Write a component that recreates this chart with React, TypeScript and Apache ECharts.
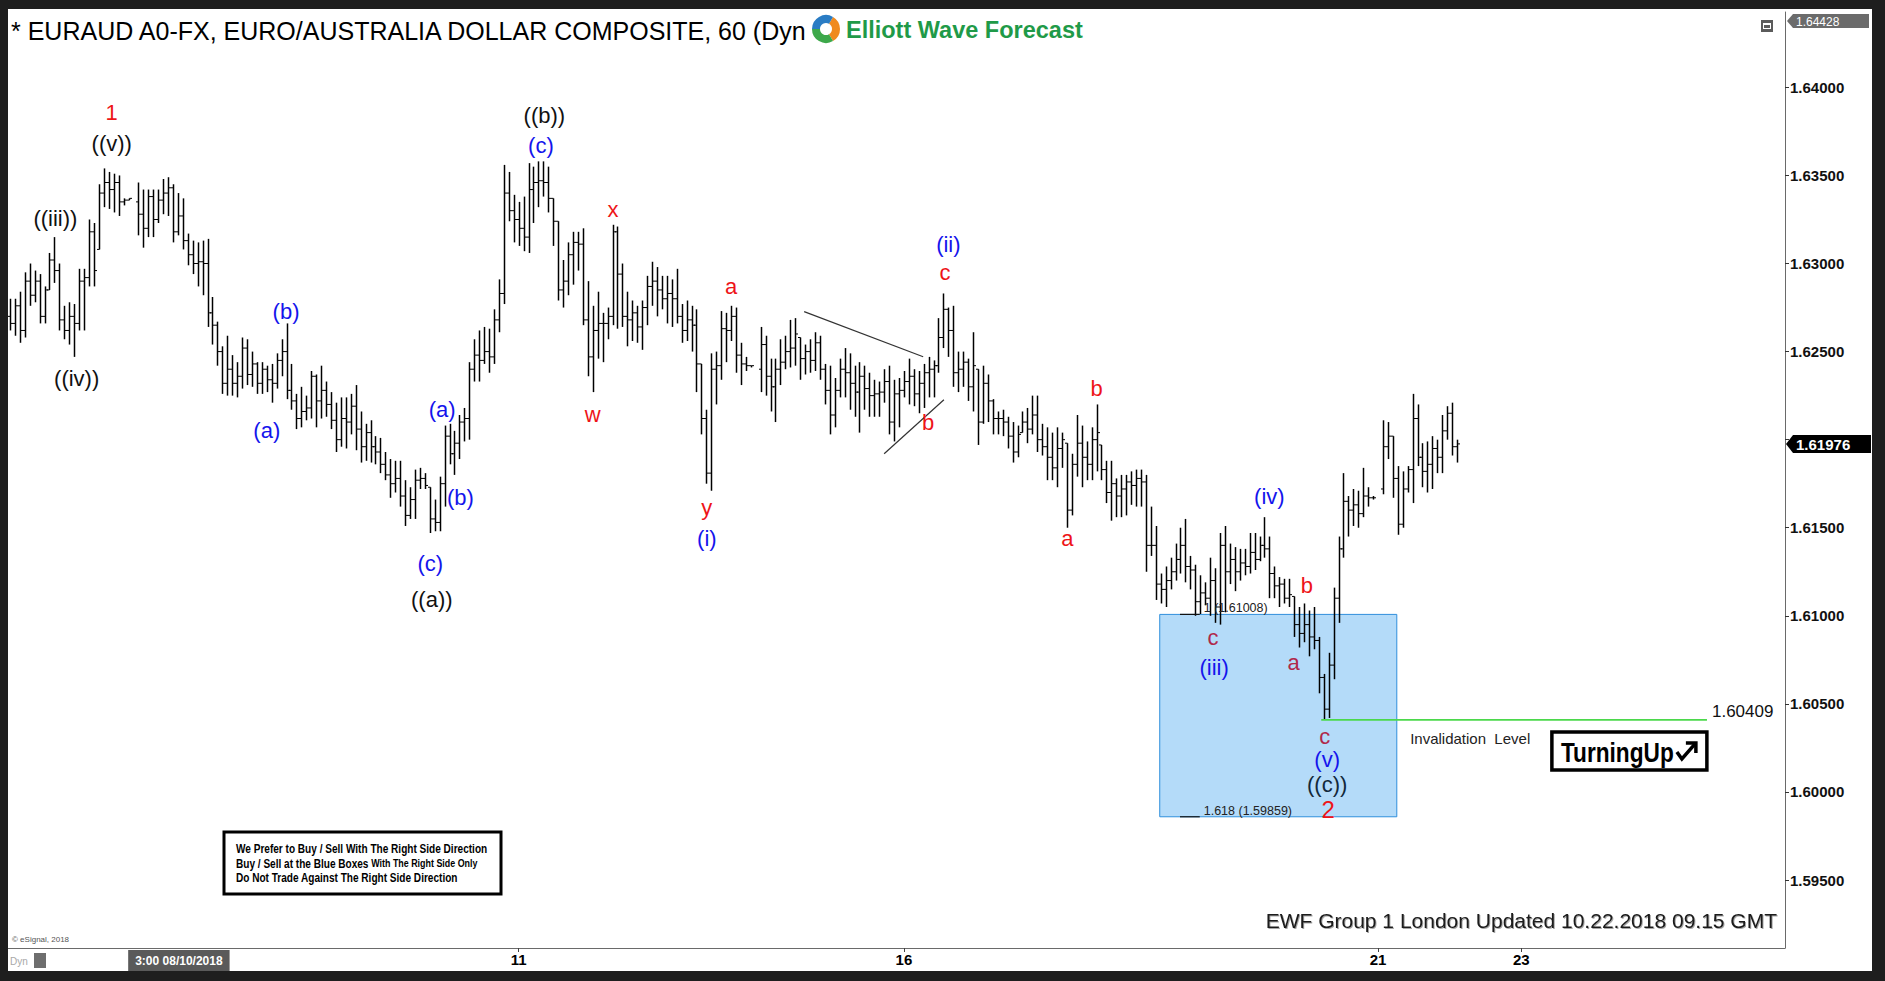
import React, { useEffect, useRef } from "react";
import * as echarts from "echarts";

const FONT = "'Liberation Sans', Arial, Helvetica, sans-serif";

// ---------------- DATA: hourly EURAUD bars, each [open, high, low, close] ----------------
const barsWave1Top = [
  [1.627, 1.628, 1.6262, 1.6266], [1.6266, 1.628, 1.6259, 1.6276], [1.6276, 1.6284, 1.6255, 1.6262],
  [1.6262, 1.6295, 1.6258, 1.629], [1.629, 1.63, 1.6276, 1.6282], [1.6282, 1.6296, 1.6278, 1.629],
  [1.629, 1.6294, 1.6266, 1.627], [1.627, 1.6287, 1.6266, 1.6285], [1.6285, 1.6306, 1.6285, 1.6302],
  [1.6302, 1.6315, 1.6289, 1.6296], [1.6296, 1.63, 1.6262, 1.6268], [1.6268, 1.6276, 1.6257, 1.6262],
  [1.6262, 1.6278, 1.6254, 1.627], [1.627, 1.6277, 1.6247, 1.6266], [1.6266, 1.6297, 1.6262, 1.629],
  [1.629, 1.6297, 1.6262, 1.6292], [1.6292, 1.6325, 1.6287, 1.6318], [1.6318, 1.6323, 1.6287, 1.6296],
  [1.6308, 1.6345, 1.6308, 1.634], [1.634, 1.6354, 1.6332, 1.6346], [1.6346, 1.6352, 1.6331, 1.6342],
  [1.6342, 1.6351, 1.6329, 1.6346], [1.6346, 1.635, 1.6327, 1.6335], [1.6335, 1.6337, 1.6333, 1.6336],
  [1.6336, 1.6337, 1.6336, 1.6337],
];
const barsWaveA1 = [
  [1.6335, 1.6346, 1.6316, 1.6328], [1.6328, 1.6342, 1.6309, 1.632], [1.632, 1.6342, 1.6315, 1.6338],
  [1.6338, 1.6342, 1.6315, 1.6325], [1.6325, 1.6342, 1.6323, 1.6336], [1.6336, 1.6348, 1.6328, 1.634],
  [1.634, 1.6349, 1.6327, 1.6343], [1.6343, 1.6345, 1.6312, 1.6318], [1.6318, 1.634, 1.6316, 1.6327],
  [1.6327, 1.6337, 1.6308, 1.6313], [1.6313, 1.6317, 1.6299, 1.6305], [1.6305, 1.6313, 1.6294, 1.63],
  [1.63, 1.6312, 1.6287, 1.6301], [1.6301, 1.6313, 1.6282, 1.63], [1.63, 1.6314, 1.6264, 1.6272],
  [1.6272, 1.6281, 1.6254, 1.6265], [1.6265, 1.6267, 1.6242, 1.625], [1.625, 1.6253, 1.6226, 1.6232],
  [1.6232, 1.6259, 1.6225, 1.624], [1.624, 1.6248, 1.6225, 1.6232], [1.6232, 1.6244, 1.6224, 1.6236],
  [1.6236, 1.6258, 1.6229, 1.6252], [1.6252, 1.6257, 1.6231, 1.6237], [1.6237, 1.625, 1.623, 1.6243],
  [1.6243, 1.6244, 1.6226, 1.6232], [1.6232, 1.6244, 1.6226, 1.624], [1.624, 1.6242, 1.6227, 1.6234],
  [1.6234, 1.6243, 1.6221, 1.6232], [1.6232, 1.6249, 1.6229, 1.6245], [1.6245, 1.6257, 1.6236, 1.625],
  [1.625, 1.6266, 1.6223, 1.6228], [1.6228, 1.6243, 1.6217, 1.6222], [1.6222, 1.6226, 1.6206, 1.6212],
  [1.6212, 1.623, 1.6207, 1.6216], [1.6216, 1.6225, 1.6211, 1.6218], [1.6218, 1.6239, 1.6212, 1.6236],
  [1.6236, 1.6237, 1.6207, 1.6222],
];
const barsWaveA2 = [
  [1.6222, 1.6242, 1.6212, 1.6228], [1.6228, 1.6233, 1.6213, 1.622], [1.622, 1.6227, 1.6206, 1.6211],
  [1.6211, 1.6221, 1.6193, 1.62], [1.62, 1.6224, 1.6196, 1.6212], [1.6212, 1.6224, 1.6195, 1.621],
  [1.621, 1.6226, 1.6203, 1.6219], [1.6219, 1.6231, 1.6194, 1.6206], [1.6206, 1.6216, 1.6187, 1.6196],
  [1.6196, 1.6209, 1.6188, 1.6204], [1.6204, 1.6211, 1.6187, 1.6196], [1.6196, 1.6202, 1.6186, 1.6193],
  [1.6193, 1.6201, 1.6181, 1.6186], [1.6186, 1.6193, 1.6177, 1.618], [1.618, 1.6189, 1.6167, 1.6175],
  [1.6175, 1.6188, 1.617, 1.6178], [1.6178, 1.6188, 1.6162, 1.6168], [1.6168, 1.6177, 1.6151, 1.6157],
  [1.6157, 1.6173, 1.6155, 1.6166], [1.6166, 1.6183, 1.6155, 1.6177], [1.6177, 1.6184, 1.6172, 1.6178],
  [1.6178, 1.6181, 1.6172, 1.6174], [1.6173, 1.6173, 1.6147, 1.6155], [1.6155, 1.6166, 1.6148, 1.6153],
  [1.6153, 1.6179, 1.6148, 1.6175], [1.6175, 1.6208, 1.6162, 1.6202], [1.6202, 1.6209, 1.6186, 1.6192],
  [1.6192, 1.6205, 1.618, 1.6198], [1.6198, 1.6214, 1.6189, 1.621], [1.621, 1.6218, 1.6199, 1.6212],
  [1.6212, 1.6244, 1.62, 1.624], [1.624, 1.6257, 1.6233, 1.6248], [1.6248, 1.6262, 1.6233, 1.6245],
  [1.6245, 1.6264, 1.6243, 1.625], [1.625, 1.6263, 1.6238, 1.6247], [1.6247, 1.6274, 1.6243, 1.6268],
  [1.6268, 1.6291, 1.6261, 1.6283],
];
const barsWaveB = [
  [1.6283, 1.6356, 1.6277, 1.634], [1.634, 1.6352, 1.6324, 1.633], [1.633, 1.6339, 1.6312, 1.6325],
  [1.6325, 1.6335, 1.631, 1.632], [1.632, 1.6338, 1.6307, 1.6315], [1.6315, 1.6357, 1.6306, 1.6342],
  [1.6342, 1.6355, 1.6323, 1.6346], [1.6346, 1.6358, 1.6332, 1.6347], [1.6347, 1.6358, 1.6338, 1.6346],
  [1.6346, 1.6355, 1.6329, 1.6337], [1.6337, 1.6337, 1.631, 1.6324], [1.6324, 1.6324, 1.6279, 1.6285],
  [1.6285, 1.6302, 1.6275, 1.629], [1.629, 1.6312, 1.6282, 1.6305], [1.6305, 1.6318, 1.6288, 1.6312],
  [1.6312, 1.6318, 1.6296, 1.6311], [1.6311, 1.632, 1.6265, 1.6268], [1.6268, 1.629, 1.6236, 1.6247],
  [1.6247, 1.6276, 1.6227, 1.6262], [1.6262, 1.6284, 1.6246, 1.6266], [1.6266, 1.6272, 1.6244, 1.6266],
  [1.6266, 1.6275, 1.6257, 1.627], [1.627, 1.6322, 1.6265, 1.6318], [1.6318, 1.6321, 1.6263, 1.6294],
  [1.6294, 1.63, 1.6264, 1.627], [1.627, 1.6284, 1.6253, 1.6268], [1.6268, 1.6279, 1.6256, 1.6272],
  [1.6272, 1.6276, 1.6255, 1.6264], [1.6264, 1.6279, 1.6251, 1.6275], [1.6275, 1.6293, 1.6265, 1.6287],
  [1.6287, 1.6301, 1.6276, 1.629], [1.629, 1.6298, 1.627, 1.6285], [1.6285, 1.6293, 1.6274, 1.628],
  [1.628, 1.6293, 1.6266, 1.6283], [1.6283, 1.6291, 1.6264, 1.628], [1.628, 1.6297, 1.6266, 1.627],
  [1.627, 1.6277, 1.6255, 1.6262], [1.6262, 1.6279, 1.6256, 1.6268], [1.6268, 1.6276, 1.625, 1.6265],
  [1.6265, 1.6274, 1.6227, 1.6243], [1.6243, 1.6243, 1.6203, 1.6212], [1.6212, 1.6217, 1.6175, 1.6181],
  [1.6181, 1.6249, 1.6171, 1.624], [1.624, 1.625, 1.622, 1.6242], [1.6242, 1.6273, 1.6234, 1.6263],
  [1.6263, 1.6272, 1.6244, 1.6262], [1.6262, 1.6276, 1.6256, 1.627], [1.627, 1.6275, 1.6238, 1.6248],
  [1.6248, 1.6255, 1.6231, 1.6243], [1.6243, 1.6247, 1.6239, 1.6242], [1.6242, 1.6242, 1.6241, 1.6242],
];
const barsWaveII = [
  [1.624, 1.6264, 1.6227, 1.6254], [1.6254, 1.6259, 1.6225, 1.6236], [1.6236, 1.6246, 1.6216, 1.623],
  [1.623, 1.6246, 1.621, 1.624], [1.624, 1.6257, 1.6231, 1.6244], [1.6244, 1.6259, 1.624, 1.625],
  [1.625, 1.6268, 1.6241, 1.6252], [1.6252, 1.6269, 1.6242, 1.626], [1.6258, 1.6258, 1.6234, 1.6246],
  [1.6246, 1.6254, 1.6237, 1.625], [1.625, 1.6257, 1.6238, 1.6245], [1.6245, 1.6261, 1.6239, 1.6255],
  [1.6255, 1.6259, 1.6234, 1.624], [1.624, 1.6243, 1.622, 1.6228], [1.6228, 1.6242, 1.6203, 1.6214],
  [1.6214, 1.6235, 1.6207, 1.6228], [1.6228, 1.6246, 1.6224, 1.624], [1.624, 1.6252, 1.6224, 1.6238],
  [1.6238, 1.6249, 1.6217, 1.6232], [1.6232, 1.6242, 1.6213, 1.6227], [1.6227, 1.6244, 1.6204, 1.6236],
  [1.6236, 1.6242, 1.6217, 1.6229], [1.6229, 1.6238, 1.6213, 1.6225], [1.6225, 1.6234, 1.6213, 1.6226],
  [1.6226, 1.6233, 1.6213, 1.6227], [1.6227, 1.624, 1.6221, 1.6233], [1.6233, 1.6242, 1.6203, 1.621],
  [1.621, 1.6234, 1.6199, 1.6226], [1.6226, 1.6235, 1.6207, 1.6228], [1.6228, 1.6239, 1.6224, 1.6233],
  [1.6233, 1.6246, 1.622, 1.6236], [1.6236, 1.624, 1.6219, 1.6226], [1.6226, 1.6239, 1.6215, 1.6232],
  [1.6232, 1.6243, 1.6218, 1.6238], [1.6238, 1.6247, 1.6224, 1.624], [1.624, 1.6245, 1.6224, 1.6242],
  [1.6242, 1.6269, 1.6238, 1.6258], [1.6258, 1.6283, 1.6252, 1.6274], [1.6274, 1.6275, 1.6247, 1.6262],
  [1.6262, 1.6276, 1.623, 1.6238], [1.6238, 1.625, 1.6227, 1.624], [1.624, 1.625, 1.623, 1.6244],
  [1.6244, 1.6246, 1.6222, 1.623], [1.623, 1.6261, 1.6216, 1.6242], [1.624, 1.624, 1.6197, 1.621],
  [1.621, 1.6242, 1.6209, 1.6232], [1.6232, 1.6237, 1.621, 1.6222], [1.6222, 1.6223, 1.6203, 1.6212],
];
const barsWaveIII = [
  [1.6212, 1.6216, 1.6203, 1.6212], [1.6212, 1.6217, 1.6202, 1.621], [1.621, 1.6213, 1.6195, 1.6202],
  [1.6202, 1.621, 1.6187, 1.6193], [1.6193, 1.6208, 1.619, 1.6203], [1.6204, 1.6216, 1.6204, 1.621],
  [1.621, 1.6218, 1.6198, 1.6206], [1.6206, 1.6225, 1.6203, 1.6214], [1.6214, 1.6225, 1.6193, 1.62],
  [1.62, 1.6209, 1.6191, 1.6196], [1.6196, 1.6207, 1.6177, 1.619], [1.619, 1.6204, 1.6177, 1.6184],
  [1.6184, 1.6207, 1.6173, 1.6195], [1.6195, 1.6204, 1.6184, 1.62], [1.6198, 1.6198, 1.615, 1.616],
  [1.616, 1.6192, 1.6157, 1.6186], [1.6186, 1.6214, 1.6179, 1.6198], [1.6198, 1.6208, 1.6173, 1.619],
  [1.619, 1.6199, 1.6177, 1.6186], [1.6186, 1.6207, 1.6177, 1.62], [1.62, 1.622, 1.6182, 1.6204],
  [1.6197, 1.6197, 1.6177, 1.6183], [1.6183, 1.6188, 1.6164, 1.617], [1.617, 1.6188, 1.6154, 1.6175],
  [1.6175, 1.6178, 1.6156, 1.6168], [1.6168, 1.618, 1.6156, 1.6172], [1.6172, 1.618, 1.6157, 1.6176],
  [1.6176, 1.6182, 1.6163, 1.6174], [1.6174, 1.6183, 1.6162, 1.6178], [1.6178, 1.6183, 1.6162, 1.6176],
  [1.6176, 1.618, 1.6125, 1.614], [1.614, 1.6162, 1.6134, 1.614], [1.614, 1.6151, 1.6109, 1.6118],
  [1.6118, 1.6124, 1.6107, 1.6115], [1.6115, 1.6128, 1.6105, 1.612], [1.612, 1.6133, 1.6115, 1.6125],
  [1.6125, 1.6141, 1.612, 1.6132], [1.6132, 1.615, 1.6124, 1.614], [1.614, 1.6155, 1.6119, 1.6128],
  [1.6128, 1.6134, 1.6115, 1.6126], [1.6126, 1.6129, 1.61, 1.6108],
];
const barsWaveV = [
  [1.6108, 1.6123, 1.6101, 1.6113], [1.6113, 1.6119, 1.6106, 1.611], [1.611, 1.6133, 1.61, 1.612],
  [1.612, 1.6127, 1.6096, 1.6105], [1.6105, 1.6147, 1.6095, 1.614], [1.614, 1.6151, 1.6102, 1.6125],
  [1.6125, 1.6141, 1.6118, 1.6132], [1.6132, 1.6139, 1.6114, 1.6125], [1.6125, 1.6138, 1.612, 1.613],
  [1.613, 1.6138, 1.6123, 1.6128], [1.6128, 1.6147, 1.6124, 1.6136], [1.6136, 1.6147, 1.6126, 1.6132],
  [1.6132, 1.6145, 1.6131, 1.614], [1.614, 1.6156, 1.6133, 1.6138], [1.6138, 1.6145, 1.611, 1.6124],
  [1.6124, 1.6128, 1.611, 1.6117], [1.6117, 1.6122, 1.6105, 1.6118], [1.6118, 1.6121, 1.6107, 1.611],
  [1.611, 1.6121, 1.6105, 1.6112], [1.6111, 1.6111, 1.6088, 1.6095], [1.6095, 1.6105, 1.6082, 1.609],
  [1.609, 1.6107, 1.6085, 1.6095], [1.6095, 1.6103, 1.6077, 1.6088], [1.6088, 1.6105, 1.6081, 1.6086],
  [1.6086, 1.6088, 1.6056, 1.6065], [1.6065, 1.6067, 1.60409, 1.6047], [1.6047, 1.6079, 1.6042, 1.6072],
  [1.6072, 1.6116, 1.6064, 1.611], [1.611, 1.6145, 1.6096, 1.6138], [1.6138, 1.6181, 1.6133, 1.6165],
  [1.6165, 1.6168, 1.6145, 1.616], [1.616, 1.6172, 1.6151, 1.6163], [1.6163, 1.6171, 1.615, 1.6158],
  [1.6158, 1.6184, 1.6156, 1.6168], [1.6168, 1.6173, 1.6162, 1.6167], [1.6167, 1.6168, 1.6166, 1.6167],
];
const barsWave3Start = [
  [1.6172, 1.6211, 1.6169, 1.6196], [1.6196, 1.621, 1.6189, 1.6202], [1.6202, 1.6202, 1.6167, 1.6178],
  [1.6178, 1.6185, 1.6146, 1.6152], [1.6152, 1.6182, 1.615, 1.6172], [1.6172, 1.6185, 1.617, 1.6183],
  [1.6183, 1.6226, 1.6164, 1.6212], [1.6212, 1.622, 1.6185, 1.619], [1.619, 1.6198, 1.6173, 1.6182],
  [1.6182, 1.6199, 1.617, 1.6186], [1.6186, 1.6202, 1.6172, 1.6195], [1.6195, 1.62, 1.6181, 1.619],
  [1.619, 1.6214, 1.6181, 1.6205], [1.6205, 1.6219, 1.62, 1.6215], [1.6215, 1.6221, 1.6191, 1.6196],
  [1.6196, 1.62, 1.6187, 1.61976],
];
// null = empty session slot (weekend gap)
const sessions = [barsWave1Top, null, barsWaveA1, barsWaveA2, barsWaveB, null, barsWaveII, barsWaveIII, barsWaveV, null, barsWave3Start];

const currentPrice = 1.61976;

// axis extents and tick labels
const X_MIN = -0.4;
const X_MAX = 359.4;
const Y_MIN = 1.59114;
const Y_MAX = 1.64428;
const Y_STEP = 0.005;
const xTickLabels: [number, string][] = [[34.2, "3:00 08/10/2018"], [103, "11"], [181, "16"], [277, "21"], [306, "23"]];
const dayTicks = [103, 181, 277, 306];

// Elliott wave labels: bar position, price position
const waveLabels = [
  { text: "1", bar: 20.6, price: 1.63857, tone: "red" },
  { text: "((v))", bar: 20.6, price: 1.63679, tone: "black" },
  { text: "((iii))", bar: 9.2, price: 1.63256, tone: "black" },
  { text: "((iv))", bar: 13.5, price: 1.62348, tone: "black" },
  { text: "(b)", bar: 55.9, price: 1.6273, tone: "blue" },
  { text: "(a)", bar: 52.0, price: 1.62054, tone: "blue" },
  { text: "((b))", bar: 108.2, price: 1.63843, tone: "black" },
  { text: "(c)", bar: 107.5, price: 1.63672, tone: "blue" },
  { text: "(a)", bar: 87.5, price: 1.6217, tone: "blue" },
  { text: "(b)", bar: 91.2, price: 1.61672, tone: "blue" },
  { text: "(c)", bar: 85.1, price: 1.61296, tone: "blue" },
  { text: "((a))", bar: 85.4, price: 1.61091, tone: "black" },
  { text: "w", bar: 118.0, price: 1.62143, tone: "red" },
  { text: "x", bar: 122.1, price: 1.63304, tone: "red" },
  { text: "y", bar: 141.1, price: 1.61617, tone: "red" },
  { text: "(i)", bar: 141.1, price: 1.61439, tone: "blue" },
  { text: "a", bar: 146.0, price: 1.62867, tone: "red" },
  { text: "b", bar: 185.9, price: 1.62095, tone: "red" },
  { text: "(ii)", bar: 190.0, price: 1.63106, tone: "blue" },
  { text: "c", bar: 189.3, price: 1.62949, tone: "red" },
  { text: "b", bar: 220.0, price: 1.62293, tone: "red" },
  { text: "a", bar: 214.1, price: 1.61439, tone: "red" },
  { text: "(iv)", bar: 255.0, price: 1.61679, tone: "blue" },
  { text: "c", bar: 243.6, price: 1.60879, tone: "boxRed" },
  { text: "(iii)", bar: 243.8, price: 1.60709, tone: "blue" },
  { text: "b", bar: 262.6, price: 1.61173, tone: "red" },
  { text: "a", bar: 259.9, price: 1.60736, tone: "boxRed" },
  { text: "c", bar: 266.2, price: 1.60312, tone: "boxRed" },
  { text: "(v)", bar: 266.7, price: 1.60183, tone: "blue" },
  { text: "((c))", bar: 266.7, price: 1.6004, tone: "boxBlack" },
  { text: "2", bar: 266.9, price: 1.59903, tone: "red" },
];

// triangle (ii) trend lines [bar1, price1, bar2, price2]
const trendLines = [
  [160.8, 1.62727, 184.9, 1.62471],
  [177.0, 1.6192, 189.1, 1.62227],
];
// blue box between 100% and 161.8% extensions
const fibBox = { from: 232.8, to: 280.8, top: 1.61008, bottom: 1.59859, tickFrom: 236.9, tickTo: 240.9 };
const fibLevels = [
  { price: 1.61008, text: "1 (1.61008)" },
  { price: 1.59859, text: "1.618 (1.59859)" },
];
const invalidation = { price: 1.60409, from: 265.5, to: 343.6, noteAt: 283.5, badgeAt: 312.2 };

// ---------------- option ----------------
const TONES: Record<string, string> = {
  red: "#ee1418",
  blue: "#1414ec",
  black: "#111111",
  boxRed: "#b0284a",
  boxBlack: "#12283a",
};

function buildOption() {
  const ohlc: (number[] | null)[] = [];
  sessions.forEach((s) => {
    if (s === null) ohlc.push(null);
    else s.forEach((b) => ohlc.push(b));
  });
  const barData = ohlc
    .map((b, i) => (b ? [i, b[0], b[1], b[2], b[3]] : null))
    .filter((d) => d !== null);

  const isStep = (v: number) => Math.abs(v / Y_STEP - Math.round(v / Y_STEP)) < 1e-6;
  // the axis label hidden behind the current-price tag
  const underTag = (v: number) => Math.abs(v - currentPrice) < Y_STEP * 0.2;

  return {
    animation: false,
    backgroundColor: "#ffffff",
    grid: { left: 8, top: 12, width: 1777, height: 936, show: false },
    tooltip: { show: false },
    xAxis: {
      type: "value",
      min: X_MIN,
      max: X_MAX,
      axisLine: { show: true, onZero: false, lineStyle: { color: "#6a6a6a", width: 1 } },
      splitLine: { show: false },
      axisTick: { show: true, customValues: dayTicks, length: 4, lineStyle: { color: "#444" } },
      axisLabel: {
        customValues: xTickLabels.map((t) => t[0]),
        margin: 2,
        fontFamily: FONT,
        fontSize: 15,
        fontWeight: "bold",
        color: "#000",
        formatter: (v: number) => {
          const hit = xTickLabels.find((t) => Math.abs(t[0] - v) < 1e-6);
          if (!hit) return "";
          return hit[1].indexOf("/") >= 0 ? `{d|${hit[1]}}` : `{n|${hit[1]}}`;
        },
        rich: {
          d: { backgroundColor: "#5a5a5a", color: "#ffffff", fontSize: 12, fontFamily: FONT, padding: [5, 7, 4, 7] },
          n: { color: "#000", fontSize: 15, fontWeight: "bold", fontFamily: FONT, padding: [2, 0, 0, 0] },
        },
      },
    },
    yAxis: {
      type: "value",
      position: "right",
      min: Y_MIN,
      max: Y_MAX,
      splitNumber: 10,
      axisLine: { show: true, onZero: false, lineStyle: { color: "#6a6a6a", width: 1 } },
      axisTick: { show: true, length: 4, lineStyle: { color: "#333" } },
      splitLine: { show: false },
      axisLabel: {
        showMinLabel: false,
        showMaxLabel: false,
        margin: 5,
        color: "#111",
        fontWeight: "bold",
        fontSize: 15,
        fontFamily: FONT,
        formatter: (v: number) => (isStep(v) && !underTag(v) ? v.toFixed(5) : ""),
      },
    },
    series: [
      {
        type: "custom",
        name: "box",
        z: 1,
        silent: true,
        data: [[fibBox.from, fibBox.top, fibBox.to, fibBox.bottom]],
        encode: { x: [0, 2], y: [1, 3] },
        renderItem: (_p: any, api: any) => {
          const a = api.coord([api.value(0), api.value(1)]);
          const b = api.coord([api.value(2), api.value(3)]);
          return {
            type: "rect",
            shape: { x: a[0], y: a[1], width: b[0] - a[0], height: b[1] - a[1] },
            style: { fill: "#b4dbf9", stroke: "#2f8fdc", lineWidth: 1 },
          };
        },
      },
      {
        type: "custom",
        name: "EURAUD",
        z: 3,
        silent: true,
        data: barData,
        encode: { x: 0, y: [1, 2, 3, 4] },
        renderItem: (_p: any, api: any) => {
          const x = api.value(0);
          const pO = api.coord([x, api.value(1)]);
          const pH = api.coord([x, api.value(2)]);
          const pL = api.coord([x, api.value(3)]);
          const pC = api.coord([x, api.value(4)]);
          const cx = Math.round(pH[0]) + 0.5;
          const y2 = Math.max(pL[1], pH[1] + 1);
          return {
            type: "group",
            children: [
              { type: "line", shape: { x1: cx, y1: pH[1], x2: cx, y2 }, style: { stroke: "#000", lineWidth: 1.5 } },
              { type: "line", shape: { x1: cx - 2.5, y1: pO[1], x2: cx, y2: pO[1] }, style: { stroke: "#000", lineWidth: 1 } },
              { type: "line", shape: { x1: cx, y1: pC[1], x2: cx + 2.5, y2: pC[1] }, style: { stroke: "#000", lineWidth: 1 } },
            ],
          };
        },
      },
      {
        type: "custom",
        name: "trend",
        z: 4,
        silent: true,
        data: trendLines,
        encode: { x: [0, 2], y: [1, 3] },
        renderItem: (_p: any, api: any) => {
          const a = api.coord([api.value(0), api.value(1)]);
          const b = api.coord([api.value(2), api.value(3)]);
          return { type: "line", shape: { x1: a[0], y1: a[1], x2: b[0], y2: b[1] }, style: { stroke: "#333", lineWidth: 1.2 } };
        },
      },
      {
        type: "custom",
        name: "fib",
        z: 4,
        silent: true,
        clip: false,
        data: fibLevels.map((f) => [fibBox.tickFrom, f.price, fibBox.tickTo]),
        encode: { x: [0, 2], y: 1 },
        renderItem: (p: any, api: any) => {
          const a = api.coord([api.value(0), api.value(1)]);
          const b = api.coord([api.value(2), api.value(1)]);
          return {
            type: "group",
            children: [
              { type: "line", shape: { x1: a[0], y1: a[1], x2: b[0], y2: b[1] }, style: { stroke: "#111", lineWidth: 1.2 } },
              {
                type: "text",
                x: b[0] + 4,
                y: b[1] - 6,
                style: { text: fibLevels[p.dataIndex].text, fill: "#222", font: `12.5px ${FONT}`, align: "left", verticalAlign: "middle" },
              },
            ],
          };
        },
      },
      {
        type: "custom",
        name: "invalidation",
        z: 4,
        silent: true,
        clip: false,
        data: [[invalidation.from, invalidation.price, invalidation.to, invalidation.noteAt, invalidation.badgeAt]],
        encode: { x: [0, 2], y: 1 },
        renderItem: (_p: any, api: any) => {
          const a = api.coord([api.value(0), api.value(1)]);
          const b = api.coord([api.value(2), api.value(1)]);
          const n = api.coord([api.value(3), api.value(1)]);
          const t = api.coord([api.value(4), api.value(1)]);
          const bx = t[0];
          const by = t[1] + 12;
          return {
            type: "group",
            children: [
              { type: "line", shape: { x1: a[0], y1: a[1], x2: b[0], y2: b[1] }, style: { stroke: "#4bd84b", lineWidth: 1.6 } },
              {
                type: "text",
                x: b[0] + 5,
                y: b[1] - 8,
                style: { text: invalidation.price.toFixed(5), fill: "#111", font: `17px ${FONT}`, align: "left", verticalAlign: "middle" },
              },
              {
                type: "text",
                x: n[0],
                y: n[1] + 19,
                style: { text: "Invalidation  Level", fill: "#222", font: `15px ${FONT}`, align: "left", verticalAlign: "middle" },
              },
              { type: "rect", shape: { x: bx, y: by, width: 155, height: 38 }, style: { fill: "#fff", stroke: "#000", lineWidth: 3.5 } },
              {
                type: "text",
                x: bx + 9,
                y: by + 20,
                scaleX: 0.84,
                style: { text: "TurningUp", fill: "#000", font: `bold 27px ${FONT}`, align: "left", verticalAlign: "middle" },
              },
              {
                type: "polyline",
                shape: { points: [[bx + 125, by + 20], [bx + 130, by + 27], [bx + 144, by + 11]] },
                style: { stroke: "#000", lineWidth: 3.5, fill: null },
              },
              {
                type: "polyline",
                shape: { points: [[bx + 134, by + 11], [bx + 144, by + 11], [bx + 144, by + 21]] },
                style: { stroke: "#000", lineWidth: 3.5, fill: null },
              },
            ],
          };
        },
      },
      {
        type: "custom",
        name: "waves",
        z: 5,
        silent: true,
        clip: false,
        data: waveLabels.map((w) => [w.bar, w.price]),
        encode: { x: 0, y: 1 },
        renderItem: (p: any, api: any) => {
          const w = waveLabels[p.dataIndex];
          const pt = api.coord([api.value(0), api.value(1)]);
          return {
            type: "text",
            x: pt[0],
            y: pt[1],
            style: {
              text: w.text,
              fill: TONES[w.tone],
              font: `${w.text === "2" ? 24 : 22}px ${FONT}`,
              align: "center",
              verticalAlign: "middle",
            },
          };
        },
      },
      {
        type: "custom",
        name: "priceTags",
        z: 6,
        silent: true,
        clip: false,
        data: [[X_MAX, currentPrice], [X_MAX, Y_MAX]],
        encode: { x: 0, y: 1 },
        renderItem: (p: any, api: any) => {
          const pt = api.coord([api.value(0), api.value(1)]);
          const x0 = pt[0];
          if (p.dataIndex === 0) {
            const y = pt[1];
            return {
              type: "group",
              children: [
                {
                  type: "polygon",
                  shape: { points: [[x0 + 1, y], [x0 + 8, y - 9], [x0 + 86, y - 9], [x0 + 86, y + 9], [x0 + 8, y + 9]] },
                  style: { fill: "#000" },
                },
                {
                  type: "text",
                  x: x0 + 11,
                  y: y + 1,
                  style: { text: currentPrice.toFixed(5), fill: "#fff", font: `bold 15px ${FONT}`, verticalAlign: "middle" },
                },
              ],
            };
          }
          const yc = pt[1] + 9;
          return {
            type: "group",
            children: [
              {
                type: "polygon",
                shape: { points: [[x0 + 2, yc], [x0 + 8, yc - 7], [x0 + 84, yc - 7], [x0 + 84, yc + 7], [x0 + 8, yc + 7]] },
                style: { fill: "#6b6b6b" },
              },
              {
                type: "text",
                x: x0 + 11,
                y: yc + 1,
                style: { text: Y_MAX.toFixed(5), fill: "#fff", font: `12px ${FONT}`, verticalAlign: "middle" },
              },
            ],
          };
        },
      },
    ],
    graphic: [
      {
        type: "text",
        x: 11,
        y: 31,
        z: 50,
        style: { text: "* EURAUD A0-FX, EURO/AUSTRALIA DOLLAR COMPOSITE, 60 (Dyn", font: `25px ${FONT}`, fill: "#000", verticalAlign: "middle" },
      },
      {
        type: "group",
        x: 806,
        y: 12,
        z: 60,
        children: [
          { type: "rect", shape: { x: 0, y: 0, width: 298, height: 35 }, style: { fill: "#ffffff" } },
          { type: "sector", shape: { cx: 20, cy: 17, r: 14, r0: 6, startAngle: -Math.PI / 3, endAngle: Math.PI / 3 }, style: { fill: "#f08a1e" } },
          { type: "sector", shape: { cx: 20, cy: 17, r: 14, r0: 6, startAngle: Math.PI / 3, endAngle: Math.PI }, style: { fill: "#3da84a" } },
          { type: "sector", shape: { cx: 20, cy: 17, r: 14, r0: 6, startAngle: Math.PI, endAngle: (5 * Math.PI) / 3 }, style: { fill: "#2a7cc4" } },
          { type: "text", x: 40, y: 18, style: { text: "Elliott Wave Forecast", font: `bold 23.5px ${FONT}`, fill: "#1f9a48", verticalAlign: "middle" } },
        ],
      },
      {
        type: "group",
        x: 1761,
        y: 20,
        z: 60,
        children: [
          { type: "rect", shape: { x: 0, y: 0, width: 12, height: 12 }, style: { fill: "#5b5b5b" } },
          { type: "rect", shape: { x: 2, y: 3, width: 8, height: 6 }, style: { fill: "#ffffff" } },
          { type: "rect", shape: { x: 3, y: 5, width: 6, height: 3 }, style: { fill: "#5b5b5b" } },
        ],
      },
      {
        type: "group",
        x: 224,
        y: 832,
        z: 60,
        children: [
          { type: "rect", shape: { x: 0, y: 0, width: 277, height: 62 }, style: { fill: "#fff", stroke: "#000", lineWidth: 3 } },
          {
            type: "text",
            x: 12,
            y: 16,
            scaleX: 0.775,
            style: { text: "We Prefer to Buy / Sell With The Right Side Direction", font: `bold 13px ${FONT}`, fill: "#000", verticalAlign: "middle" },
          },
          {
            type: "text",
            x: 12,
            y: 31,
            scaleX: 0.775,
            style: {
              text: "{a|Buy / Sell at the Blue Boxes} {b|With The Right Side Only}",
              fill: "#000",
              verticalAlign: "middle",
              rich: {
                a: { font: `bold 13px ${FONT}`, fill: "#000" },
                b: { font: `bold 11.5px ${FONT}`, fill: "#000" },
              },
            },
          },
          {
            type: "text",
            x: 12,
            y: 45,
            scaleX: 0.775,
            style: { text: "Do Not Trade Against The Right Side Direction", font: `bold 13px ${FONT}`, fill: "#000", verticalAlign: "middle" },
          },
        ],
      },
      {
        type: "text",
        x: 1777,
        y: 920,
        z: 50,
        style: {
          text: "EWF Group 1 London Updated 10.22.2018 09.15 GMT",
          font: `21px ${FONT}`,
          fill: "#1a1a1a",
          align: "right",
          verticalAlign: "middle",
          textShadowColor: "rgba(0,0,0,0.35)",
          textShadowOffsetX: 1,
          textShadowOffsetY: 1,
          textShadowBlur: 1,
        },
      },
      { type: "text", x: 12, y: 939, z: 50, style: { text: "© eSignal, 2018", font: `8px ${FONT}`, fill: "#555", verticalAlign: "middle" } },
      { type: "text", x: 10, y: 961, z: 50, style: { text: "Dyn", font: `10px ${FONT}`, fill: "#a8a8a8", verticalAlign: "middle" } },
      { type: "rect", x: 34, y: 953, z: 50, shape: { x: 0, y: 0, width: 12, height: 15 }, style: { fill: "#6e6e6e" } },
      { type: "rect", x: 0, y: 0, z: 200, shape: { x: 0, y: 0, width: 1885, height: 9 }, style: { fill: "#1e1e1e" } },
      { type: "rect", x: 0, y: 0, z: 200, shape: { x: 0, y: 0, width: 8, height: 981 }, style: { fill: "#1e1e1e" } },
      { type: "rect", x: 0, y: 0, z: 200, shape: { x: 1872, y: 0, width: 13, height: 981 }, style: { fill: "#1e1e1e" } },
      { type: "rect", x: 0, y: 0, z: 200, shape: { x: 0, y: 971, width: 1885, height: 10 }, style: { fill: "#1e1e1e" } },
    ],
  };
}

export default function App() {
  const ref = useRef<HTMLDivElement>(null);
  useEffect(() => {
    document.body.style.margin = "0";
    document.body.style.overflow = "hidden";
    const chart = echarts.init(ref.current as HTMLDivElement, null, { renderer: "svg" });
    chart.setOption(buildOption() as any);
    return () => chart.dispose();
  }, []);
  return <div ref={ref} style={{ width: 1885, height: 981 }} />;
}
